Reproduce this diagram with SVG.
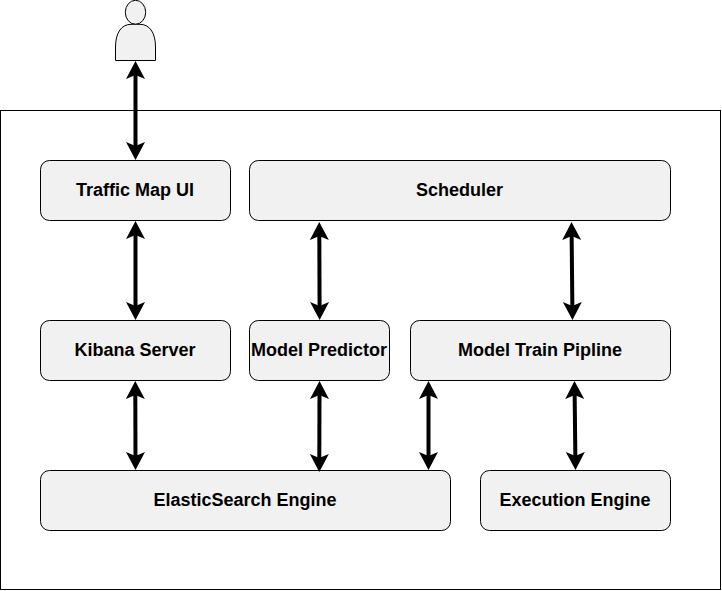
<svg xmlns="http://www.w3.org/2000/svg" width="722" height="591" viewBox="0 0 722 591">
<style>
.n{fill:#f1f1f1;stroke:#000;stroke-width:1}
.t{font-family:"Liberation Sans",Arial,sans-serif;font-size:18px;font-weight:bold;text-anchor:middle;fill:#000}
.c{fill:none;stroke:#000;stroke-width:4;marker-start:url(#a);marker-end:url(#a)}
</style>
<defs><marker id="a" viewBox="0 0 20 20" refX="8" refY="10" markerWidth="20" markerHeight="20" markerUnits="userSpaceOnUse" orient="auto-start-reverse"><path d="M0 0.5L18 10L0 19.500L4 10Z" fill="#000"/></marker></defs>
<rect id="frame" x="0.5" y="110.5" width="720" height="479" fill="#fff" stroke="#000"/>
<g id="user"><ellipse class="n" cx="135.500" cy="12.300" rx="10.200" ry="12"/><path class="n" d="M115.500 60.500V47C115.500 32 122 24.300 131 24.300H140C149 24.300 155.500 32 155.500 47V60.500Z"/></g>
<g id="traffic"><rect class="n" x="40.500" y="160.500" width="190" height="60" rx="9"/><text class="t" x="135" y="196">Traffic Map UI</text></g>
<g id="scheduler"><rect class="n" x="249.500" y="160.500" width="421" height="60" rx="9"/><text class="t" x="459.500" y="196">Scheduler</text></g>
<g id="kibana"><rect class="n" x="40.500" y="320.500" width="190" height="60" rx="9"/><text class="t" x="135" y="356">Kibana Server</text></g>
<g id="predictor"><rect class="n" x="249.500" y="320.500" width="140" height="60" rx="9"/><text class="t" x="319" y="356">Model Predictor</text></g>
<g id="train"><rect class="n" x="410.500" y="320.500" width="260" height="60" rx="9"/><text class="t" x="540" y="356">Model Train Pipline</text></g>
<g id="es"><rect class="n" x="40.500" y="470.500" width="410" height="60" rx="9"/><text class="t" x="245" y="506">ElasticSearch Engine</text></g>
<g id="exec"><rect class="n" x="480.500" y="470.500" width="190" height="60" rx="9"/><text class="t" x="575" y="506">Execution Engine</text></g>
<g id="connectors">
<path class="c" d="M135.500 71V150"/>
<path class="c" d="M135.500 231V310"/>
<path class="c" d="M319.300 232L319.600 310"/>
<path class="c" d="M571.600 232L572.400 310"/>
<path class="c" d="M135.300 391L135.500 460"/>
<path class="c" d="M319.500 391L319.300 462"/>
<path class="c" d="M428.500 391V460"/>
<path class="c" d="M574.600 391L575.400 460"/>
</g>
</svg>
